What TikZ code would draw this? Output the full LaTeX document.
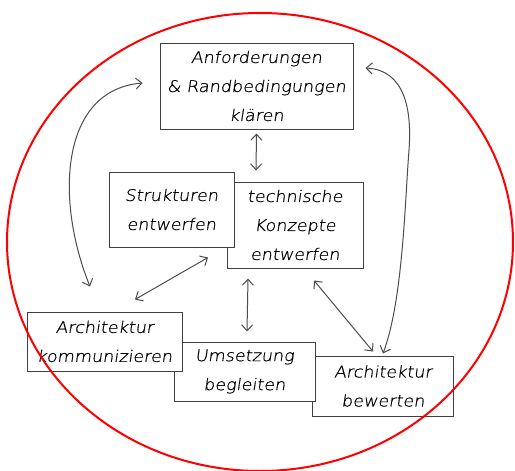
\documentclass[tikz,border=0pt]{standalone}
\usepackage{fontspec}
\newfontfamily\handfont{DejaVu Sans ExtraLight}[FakeSlant=0.15,FakeStretch=1.1,FakeBold=0.6]
\usetikzlibrary{arrows.meta,calc}
\begin{document}
\begin{tikzpicture}[x=1pt,y=-1pt,
  box/.style={draw=black!75, line width=1pt, fill=white, inner sep=0pt, align=center,
    font=\handfont\fontsize{16}{29}\selectfont, text=black},
  arr/.style={draw=black!70, line width=1pt,
    {Straight Barb[length=6pt,width=11pt]}-{Straight Barb[length=6pt,width=11pt]}},
  ring/.style={draw=red, line width=2pt}]
\useasboundingbox (0,0) rectangle (515,471);
% boxes
\node[box, minimum width=193pt, minimum height=86pt] (A) at (256.5,86) {Anforderungen\\\& Randbedingungen\\klären};
\node[box, minimum width=136pt, minimum height=86pt] (T) at (295,225) {technische\\Konzepte\\entwerfen};
\node[box, minimum width=125pt, minimum height=75pt] (S) at (171.5,209.5) {Strukturen\\entwerfen};
\node[box, minimum width=141pt, minimum height=60pt] (B) at (383,386) {Architektur\\bewerten};
\node[box, minimum width=141pt, minimum height=59pt] (U) at (244.5,371.5) {Umsetzung\\begleiten};
\node[box, minimum width=155pt, minimum height=59pt] (K) at (104.5,341.5) {Architektur\\kommunizieren};
% connectors
\draw[arr] ($(A.south)+(0,4)$) -- ($(T.north)+(-39,-11)$);
\draw[arr] ($(A.west)+(-17,-3)$) .. controls (60,90) and (55,200) .. ($(K.north)+(-14.5,-25)$);
\draw[arr] ($(A.east)+(12,-18)$) .. controls (405,70) and (412,110) .. (409,150)
   .. controls (405,200) and (403,300) .. ($(B.north)+(0,-2)$);
\draw[arr] ($(S.south)+(36.5,10)$) -- ($(K.north)+(30.5,-12)$);
\draw[arr] ($(T.south)+(-47,10)$) -- ($(U.north)+(2.5,-10)$);
\draw[arr] ($(T.south)+(19,12)$) -- ($(B.north)+(-10,-4)$);
% red ellipse
\draw[ring] (260,242) ellipse [x radius=253pt, y radius=229pt];
\end{tikzpicture}
\end{document}
